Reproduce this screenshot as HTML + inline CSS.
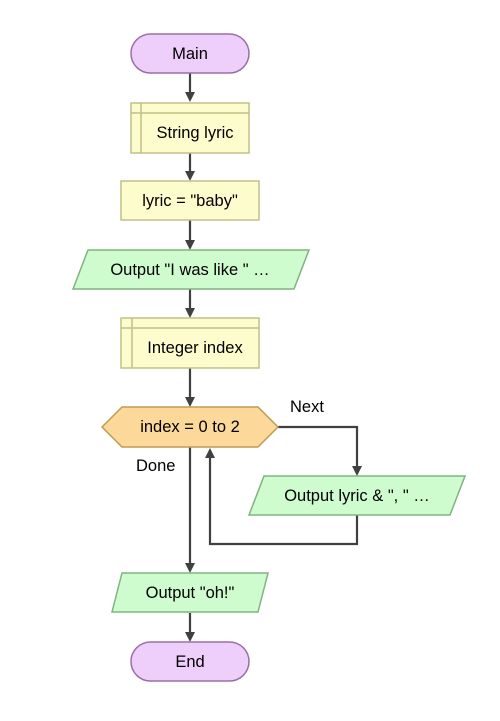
<!DOCTYPE html>
<html><head><style>body{margin:0;background:#fff}svg{display:block}</style></head><body>
<svg width="500" height="721" viewBox="0 0 500 721" xmlns="http://www.w3.org/2000/svg" font-family="Liberation Sans, Arial, sans-serif" font-size="16.5">
<g stroke="#404040" stroke-width="2.2" fill="none">
<line x1="190" y1="73" x2="190" y2="94"/>
<line x1="190" y1="153" x2="190" y2="173"/>
<line x1="190" y1="220" x2="190" y2="242"/>
<line x1="190" y1="289" x2="190" y2="310"/>
<line x1="190" y1="368" x2="190" y2="399"/>
<polyline points="278,427 357,427 357,468"/>
<polyline points="357,515 357,544 210,544 210,456"/>
<line x1="190" y1="447" x2="190" y2="565"/>
<line x1="190" y1="613" x2="190" y2="634"/>
</g>
<g fill="#404040">
<polygon points="185,92 195,92 190,102"/>
<polygon points="185,171 195,171 190,181"/>
<polygon points="185,240 195,240 190,250"/>
<polygon points="185,308 195,308 190,318"/>
<polygon points="185,397 195,397 190,407"/>
<polygon points="352,466 362,466 357,476"/>
<polygon points="205,458 215,458 210,448"/>
<polygon points="185,563 195,563 190,573"/>
<polygon points="185,632 195,632 190,642"/>
</g>
<rect x="131" y="34" width="118" height="39" rx="19.5" fill="#eecffc" stroke="#9b6fa6" stroke-width="1.5"/>
<text x="190" y="59" text-anchor="middle">Main</text>
<rect x="131" y="103" width="118" height="50" fill="#fdfccd" stroke="#c1c08a" stroke-width="1.5"/>
<line x1="141" y1="103" x2="141" y2="153" stroke="#c1c08a" stroke-width="1.5"/>
<line x1="131" y1="113" x2="249" y2="113" stroke="#c1c08a" stroke-width="1.5"/>
<text x="195" y="138" text-anchor="middle">String lyric</text>
<rect x="121" y="181" width="138" height="39" fill="#fdfccd" stroke="#c1c08a" stroke-width="1.5"/>
<text x="190" y="206" text-anchor="middle">lyric = "baby"</text>
<polygon points="88,250 309,250 294,289 73,289" fill="#cffccf" stroke="#80b380" stroke-width="1.5"/>
<text x="190" y="275" text-anchor="middle">Output "I was like " …</text>
<rect x="121" y="318" width="138" height="50" fill="#fdfccd" stroke="#c1c08a" stroke-width="1.5"/>
<line x1="132" y1="318" x2="132" y2="368" stroke="#c1c08a" stroke-width="1.5"/>
<line x1="121" y1="328" x2="259" y2="328" stroke="#c1c08a" stroke-width="1.5"/>
<text x="195" y="353" text-anchor="middle">Integer index</text>
<polygon points="102,427 122,407 258,407 278,427 258,447 122,447" fill="#fcd89a" stroke="#c09a52" stroke-width="1.5"/>
<text x="190" y="432" text-anchor="middle">index = 0 to 2</text>
<text x="290" y="412">Next</text>
<text x="136" y="471">Done</text>
<polygon points="264,476 465,476 450,515 249,515" fill="#cffccf" stroke="#80b380" stroke-width="1.5"/>
<text x="357" y="501" text-anchor="middle">Output lyric &amp; ", " …</text>
<polygon points="122,573 268,573 258,612 112,612" fill="#cffccf" stroke="#80b380" stroke-width="1.5"/>
<text x="190" y="598" text-anchor="middle">Output "oh!"</text>
<rect x="131" y="642" width="118" height="39" rx="19.5" fill="#eecffc" stroke="#9b6fa6" stroke-width="1.5"/>
<text x="190" y="667" text-anchor="middle">End</text>
</svg>
</body></html>
